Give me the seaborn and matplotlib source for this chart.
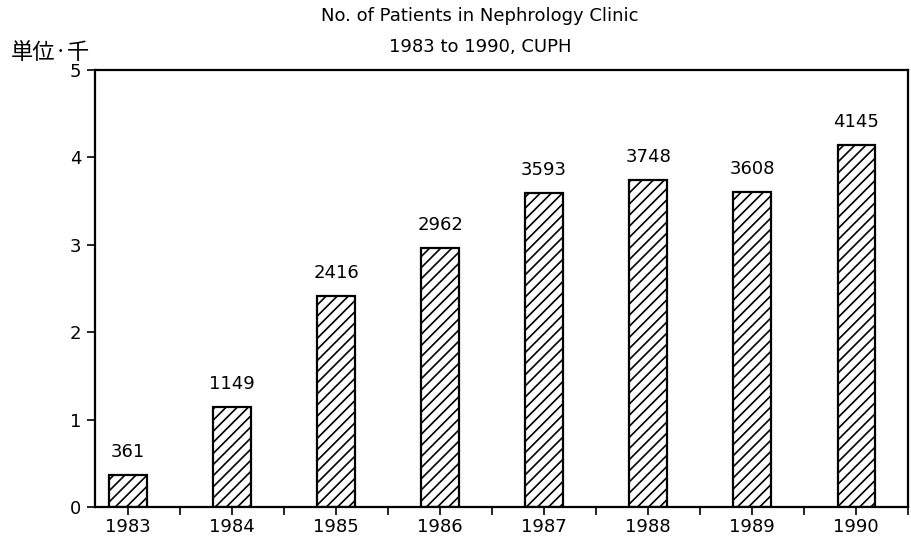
import numpy as np
import pandas as pd
import matplotlib.pyplot as plt
import seaborn as sns

# data (patients, counted per year)
years = ["1983", "1984", "1985", "1986", "1987", "1988", "1989", "1990"]
patients = [361, 1149, 2416, 2962, 3593, 3748, 3608, 4145]
y_ticks = [0, 1, 2, 3, 4, 5]

sns.set_theme(style="white")
plt.rcParams["font.family"] = ["DejaVu Sans", "Noto Sans CJK JP"]
plt.rcParams["hatch.linewidth"] = 1.2

df = pd.DataFrame({"year": years, "thousands": [p / 1000 for p in patients]})

fig = plt.figure(figsize=(9.11, 5.48), dpi=100)
ax = fig.add_axes([0.104, 0.075, 0.893, 0.797])

sns.barplot(data=df, x="year", y="thousands", color="white", width=0.36,
            edgecolor="black", linewidth=1.6, ax=ax)
for patch in ax.patches:
    patch.set_hatch("///")

# value labels above bars
for i, p in enumerate(patients):
    ax.annotate(str(p), (i, p / 1000), xytext=(0, 10), textcoords="offset points",
                ha="center", va="bottom", fontsize=13, color="black")

ax.set_xlim(-0.32, 7.3)
ax.set_ylim(0, 5)
ax.set_yticks(y_ticks)
ax.set_yticklabels([str(t) for t in y_ticks], fontsize=13)
ax.set_xticks(range(len(years)))
ax.set_xticklabels(years, fontsize=13)
ax.set_xticks(np.arange(0.5, len(years), 1), minor=True)
ax.tick_params(axis="both", which="both", direction="out", length=6, width=1.2,
               color="black", labelcolor="black", bottom=True, left=True)
ax.tick_params(axis="x", which="major", pad=2)
ax.set_xlabel("")
ax.set_ylabel("")

for s in ax.spines.values():
    s.set_visible(True)
    s.set_color("black")
    s.set_linewidth(1.6)

fig.text(0.527, 0.97, "No. of Patients in Nephrology Clinic", ha="center",
         va="center", fontsize=13, color="black")
fig.text(0.527, 0.915, "1983 to 1990, CUPH", ha="center", va="center",
         fontsize=13, color="black")
fig.text(0.012, 0.905, "単位·千", ha="left", va="center", fontsize=16,
         family=["Noto Sans CJK JP", "DejaVu Sans"], color="black")

plt.savefig("out.png", dpi=100)
plt.close()
